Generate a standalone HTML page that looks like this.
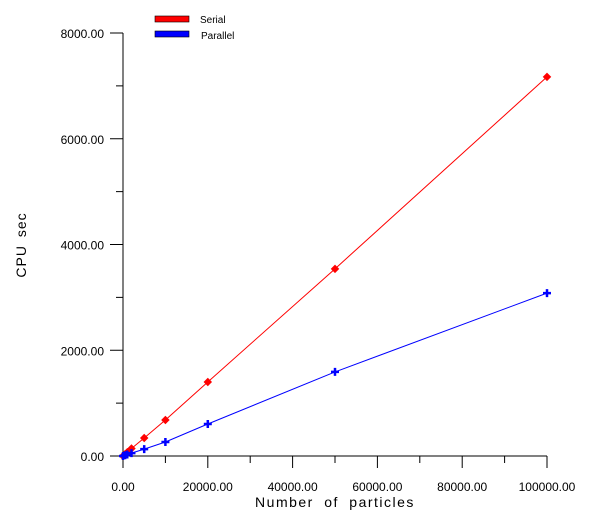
<!DOCTYPE html>
<html><head><meta charset="utf-8"><style>
body{margin:0;background:#fff}
svg text{font-family:"Liberation Sans",sans-serif;fill:#000}
</style></head><body>
<svg id="chart" width="600" height="518" xmlns="http://www.w3.org/2000/svg">
<g id="axes"></g>
<g id="series"></g>
<g>
<rect x="155" y="16" width="34" height="6" fill="#f00" stroke="#000" stroke-width="0.6"/>
<text x="200" y="23" font-size="10">Serial</text>
<rect x="155" y="31" width="34" height="6" fill="#00f" stroke="#000" stroke-width="0.6"/>
<text x="201" y="39" font-size="10">Parallel</text>
</g>
<text transform="translate(26,245) rotate(-90)" text-anchor="middle" font-size="14" letter-spacing="1" word-spacing="3">CPU sec</text>
<text x="335" y="507" text-anchor="middle" font-size="14" letter-spacing="1.5" word-spacing="5">Number of particles</text>
</svg>
<script>
const particles=[0,500,1000,2000,5000,10000,20000,50000,100000];
const serial=[0,35,70,142,340,680,1400,3540,7170];
const parallel=[0,15,28,55,130,265,605,1590,3080];
const xTicks=[0,20000,40000,60000,80000,100000];
const yTicks=[0,2000,4000,6000,8000];
const NS="http://www.w3.org/2000/svg";
function X(v){return 123+v*(424/100000);}
function Y(v){return 456-v*(423/8000);}
function mk(tag,attrs,parent){const e=document.createElementNS(NS,tag);for(const k in attrs)e.setAttribute(k,attrs[k]);parent.appendChild(e);return e;}
const ax=document.getElementById('axes');
let l=mk('line',{x1:123,y1:Y(8000),x2:123,y2:456,stroke:'#000'},ax);


l=mk('line',{x1:123,y1:456,x2:X(100000),y2:456,stroke:'#000'},ax);


for(let v=0;v<=8000;v+=1000){const t=mk('line',{x1:v%2000?116:110,y1:Y(v),x2:123,y2:Y(v),stroke:'#000'},ax);

}
yTicks.forEach(v=>{const t=mk('text',{x:104,y:Y(v)+5,'text-anchor':'end','font-size':12},ax);t.textContent=v.toFixed(2);

});
for(let v=0;v<=100000;v+=10000){const t=mk('line',{x1:X(v),y1:456,x2:X(v),y2:v%20000?463:468,stroke:'#000'},ax);

}
xTicks.forEach(v=>{const t=mk('text',{x:X(v),y:491,'text-anchor':'middle','font-size':12},ax);t.textContent=v.toFixed(2);

});
const sg=document.getElementById('series');
function draw(vals,color,name,cross){
 const p=mk('polyline',{points:particles.map((x,i)=>X(x)+','+Y(vals[i])).join(' '),fill:'none',stroke:color,'stroke-width':1},sg);
 
 
 particles.forEach((x,i)=>{let m;
  if(cross){m=mk('path',{d:`M${X(x)-4},${Y(vals[i])}h8M${X(x)},${Y(vals[i])-4}v8`,stroke:color,'stroke-width':2.5},sg);}
  else{m=mk('rect',{x:X(x)-3,y:Y(vals[i])-3,width:6,height:6,fill:color,transform:`rotate(45 ${X(x)} ${Y(vals[i])})`},sg);}
  
  });
}
draw(serial,'#f00','serial',false);
draw(parallel,'#00f','parallel',true);
</script>
</body></html>
